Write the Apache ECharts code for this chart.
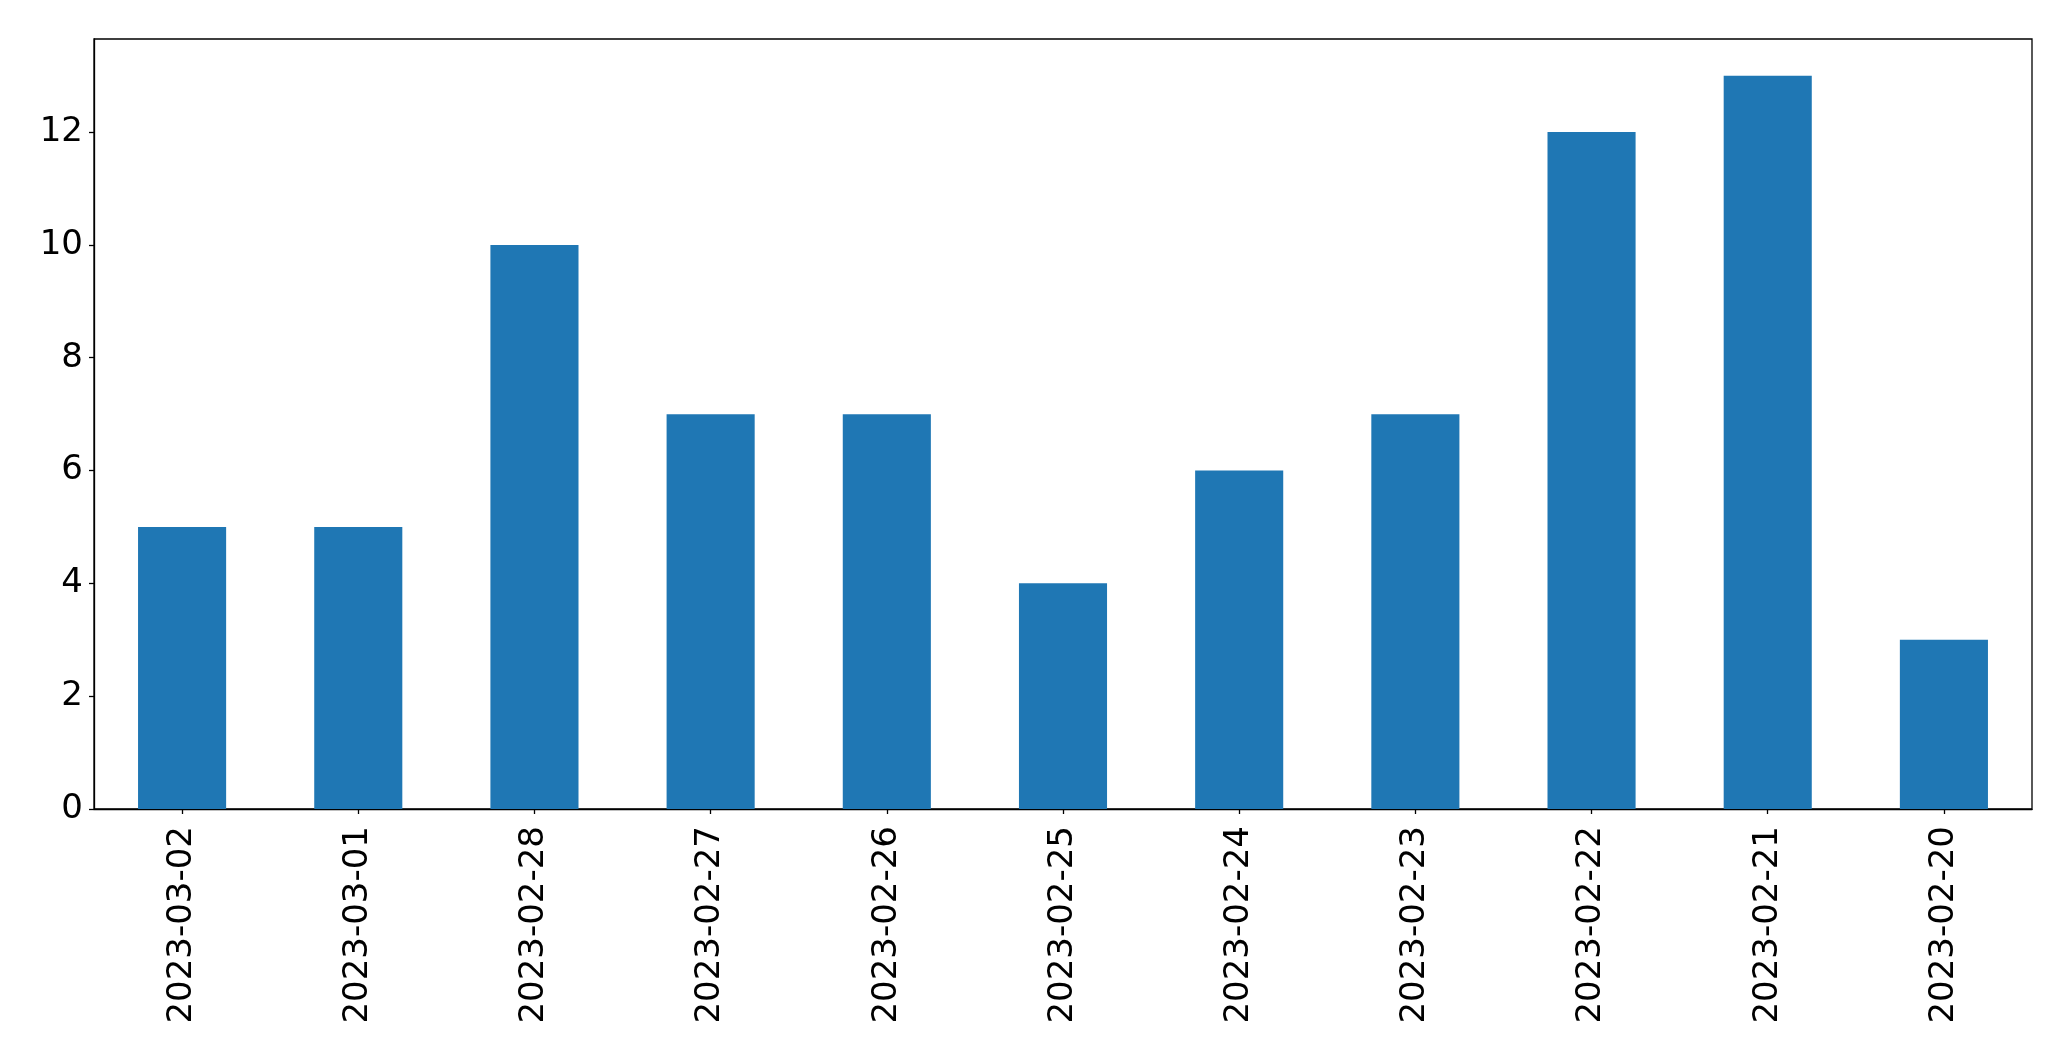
<!DOCTYPE html>
<html>
<head>
<meta charset="utf-8">
<script src="https://cdn.jsdelivr.net/npm/echarts@6/dist/echarts.min.js"></script>
<style>
html,body{margin:0;padding:0;background:#fff;}
#chart{width:2071px;height:1061px;}
</style>
</head>
<body>
<div id="chart"></div>
<script>
const categories = ['2023-03-02','2023-03-01','2023-02-28','2023-02-27','2023-02-26','2023-02-25','2023-02-24','2023-02-23','2023-02-22','2023-02-21','2023-02-20'];
const values = [5, 5, 10, 7, 7, 4, 6, 7, 12, 13, 3];
const yTicks = [0, 2, 4, 6, 8, 10, 12];

const chart = echarts.init(document.getElementById('chart'), null, {renderer: 'canvas'});
const font = 'DejaVu Sans';
chart.setOption({
  animation: false,
  backgroundColor: '#ffffff',
  grid: {
    left: 94, top: 39, width: 1938, height: 770,
    show: true, borderColor: '#000000', borderWidth: 1.3, backgroundColor: 'transparent'
  },
  xAxis: {
    type: 'category',
    data: categories,
    boundaryGap: true,
    axisLine: {show: true, lineStyle: {color: '#000', width: 1.3}},
    axisTick: {show: true, alignWithLabel: true, length: 5, lineStyle: {color: '#000', width: 1.3}},
    axisLabel: {rotate: 90, margin: 17, fontFamily: font, fontSize: 34, color: '#000', interval: 0},
    splitLine: {show: false}
  },
  yAxis: {
    type: 'value',
    min: 0, max: 13.65,
    axisLine: {show: true, lineStyle: {color: '#000', width: 1.3}},
    axisTick: {show: true, length: 5, customValues: yTicks, lineStyle: {color: '#000', width: 1.3}},
    axisLabel: {
      margin: 11, fontFamily: font, fontSize: 34, color: '#000',
      customValues: yTicks
    },
    splitLine: {show: false}
  },
  series: [{
    type: 'bar',
    data: values,
    barWidth: '50%',
    itemStyle: {color: '#1f77b4'}
  }]
});
</script>
</body>
</html>
